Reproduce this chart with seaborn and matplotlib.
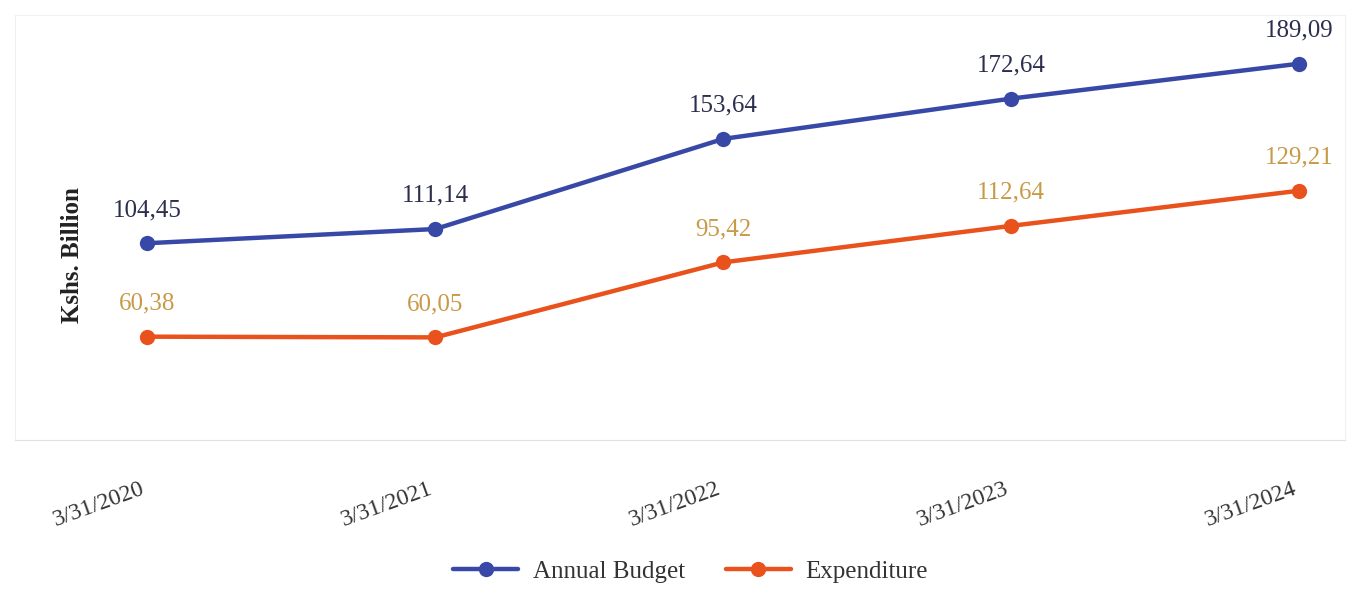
import pandas as pd
import numpy as np
import matplotlib.pyplot as plt
import seaborn as sns

# values (Kshs. Billion)
dates = ['3/31/2020', '3/31/2021', '3/31/2022', '3/31/2023', '3/31/2024']
annual_budget = [104.45, 111.14, 153.64, 172.64, 189.09]
expenditure = [60.38, 60.05, 95.42, 112.64, 129.21]
series_names = ['Annual Budget', 'Expenditure']

df = pd.DataFrame({
    'date': dates * 2,
    'value': annual_budget + expenditure,
    'series': [series_names[0]] * len(dates) + [series_names[1]] * len(dates),
})

sns.set_style('white')
plt.rcParams['font.family'] = ['Liberation Serif', 'DejaVu Serif']

line_colors = {'Annual Budget': '#3848a6', 'Expenditure': '#e9521c'}
label_colors = {'Annual Budget': '#2c2e4e', 'Expenditure': '#c89a48'}

fig = plt.figure(figsize=(13.63, 6.04), dpi=100)
ax = fig.add_axes([0.011, 0.272, 0.976, 0.703])

sns.lineplot(data=df, x='date', y='value', hue='series', palette=line_colors,
             marker='o', markersize=11, markeredgewidth=0, linewidth=3.2,
             sort=False, ax=ax)

        # value labels above each point, comma as decimal mark
for name, vals in zip(series_names, [annual_budget, expenditure]):
    for i, v in enumerate(vals):
        ax.annotate(f'{v:.2f}'.replace('.', ','), (i, v), xytext=(0, 16),
                    textcoords='offset points', ha='center', va='bottom',
                    fontsize=18, color=label_colors[name])

ax.set_xlim(-0.46, 4.16)
ax.set_ylim(11.8, 212)
ax.set_yticks([])
ax.set_xlabel('')
ax.set_ylabel('Kshs. Billion', fontsize=18, fontweight='bold', color='#222222')
ax.yaxis.set_label_coords(0.052, 0.435)

ax.tick_params(axis='x', length=0, pad=28)
plt.setp(ax.get_xticklabels(), rotation=20, fontsize=17, color='#333333',
         ha='right')

for side in ['top', 'right', 'left']:
    ax.spines[side].set_color('#f0f0f0')
ax.spines['bottom'].set_color('#e2e2e2')

handles, labels = ax.get_legend_handles_labels()
ax.legend(handles, labels, loc='center', bbox_to_anchor=(0.508, -0.31),
          ncol=2, frameon=False, fontsize=18, handlelength=2.6,
          handletextpad=0.6, columnspacing=1.6, labelcolor='#333333')

fig.savefig('out.png', dpi=100)
